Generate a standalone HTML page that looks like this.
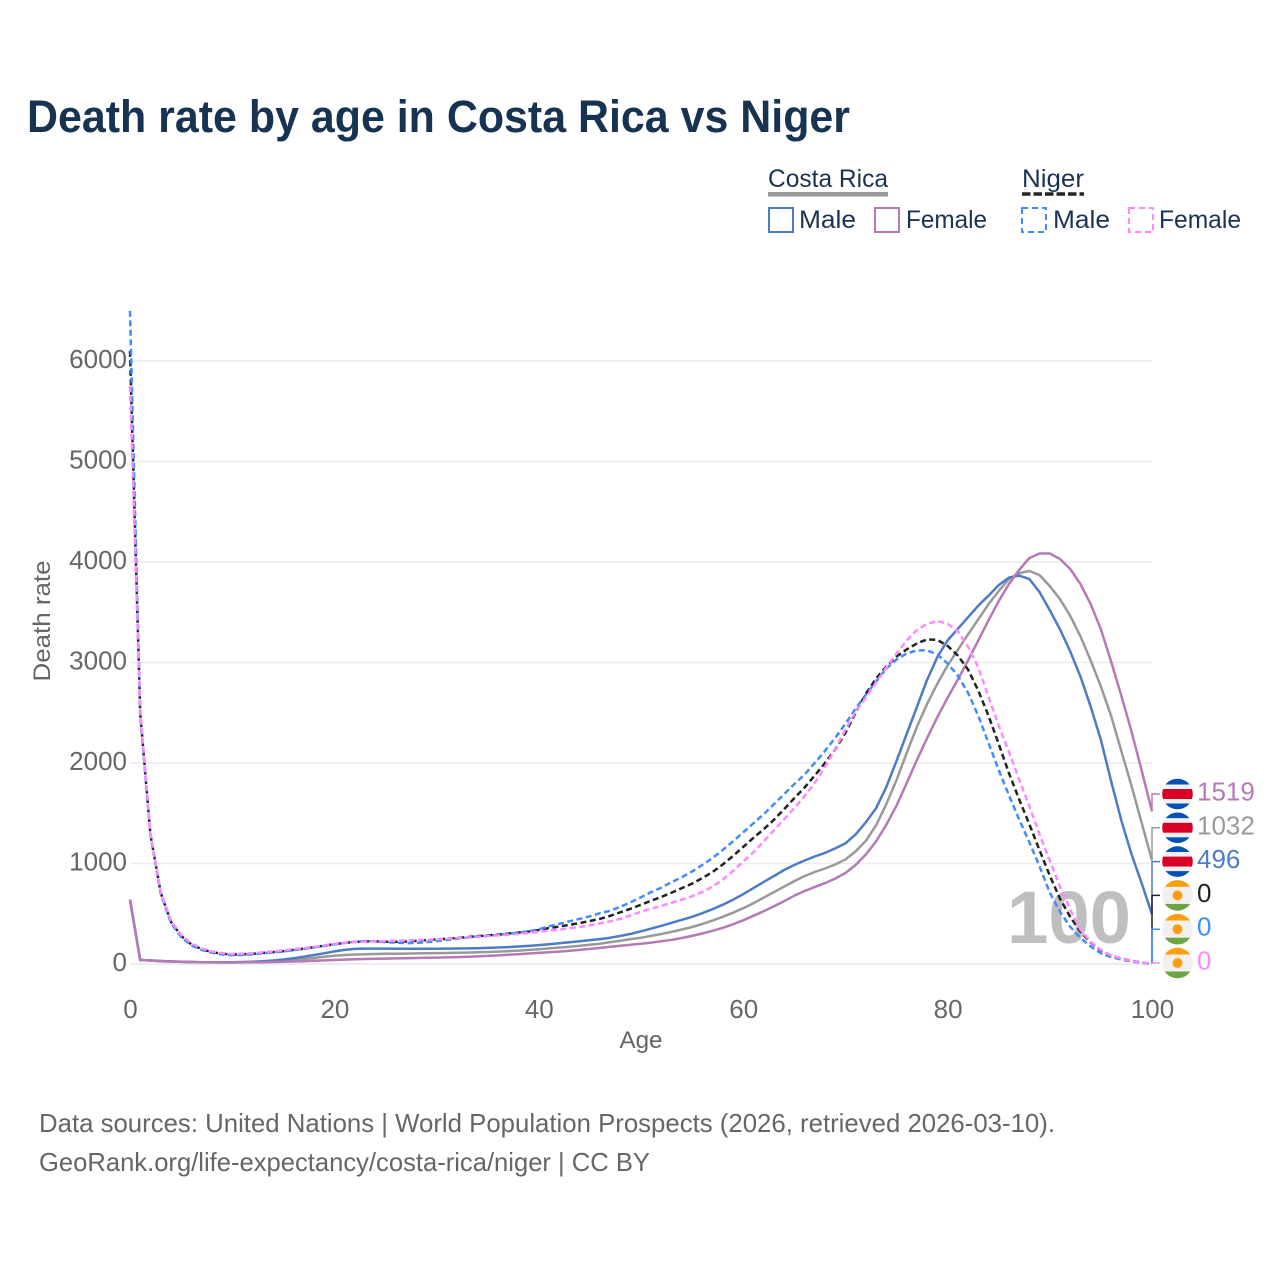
<!DOCTYPE html>
<html>
<head>
<meta charset="utf-8">
<style>
html,body{margin:0;padding:0;background:#fff;}
svg{display:block;font-family:"Liberation Sans",sans-serif;}
</style>
</head>
<body>
<svg id="chart" xmlns="http://www.w3.org/2000/svg" width="1280" height="1280" viewBox="0 0 1280 1280">
<defs>
<clipPath id="flag-clip"><circle cx="0" cy="0" r="15.3"/></clipPath>
</defs>
<rect width="1280" height="1280" fill="#fff"/>
<text x="27" y="132" font-size="45" font-weight="700" fill="#173352" textLength="823" lengthAdjust="spacingAndGlyphs">Death rate by age in Costa Rica vs Niger</text>

<g font-size="25" fill="#1a3353">
<text x="768" y="187" textLength="120" lengthAdjust="spacingAndGlyphs">Costa Rica</text>
<rect x="768" y="192" width="120" height="4.5" fill="#999"/>
<text x="1022" y="187" textLength="62" lengthAdjust="spacingAndGlyphs">Niger</text>
<line x1="1022" y1="194" x2="1084" y2="194" stroke="#222" stroke-width="3.5" stroke-dasharray="8.5 3"/>
<rect x="769" y="208" width="24" height="24" fill="none" stroke="#4d7cc7" stroke-width="2"/>
<text x="799" y="228" textLength="57" lengthAdjust="spacingAndGlyphs">Male</text>
<rect x="875" y="208" width="24" height="24" fill="none" stroke="#b57ab5" stroke-width="2"/>
<text x="906" y="228" textLength="81" lengthAdjust="spacingAndGlyphs">Female</text>
<rect x="1022" y="208" width="24" height="24" fill="none" stroke="#3f8cff" stroke-width="2" stroke-dasharray="6 4"/>
<text x="1053" y="228" textLength="57" lengthAdjust="spacingAndGlyphs">Male</text>
<rect x="1129" y="208" width="24" height="24" fill="none" stroke="#ff88ff" stroke-width="2" stroke-dasharray="6 4"/>
<text x="1159" y="228" textLength="82" lengthAdjust="spacingAndGlyphs">Female</text>
</g>

<g id="grid"></g>
<g id="ticks"></g>
<text id="year-mark" x="1069" y="943" text-anchor="middle" font-size="74" font-weight="700" fill="#bfbfbf" textLength="124" lengthAdjust="spacingAndGlyphs"></text>
<g id="series"></g>
<g id="labels"></g>

<text x="641" y="1048" text-anchor="middle" font-size="24" fill="#666" textLength="43" lengthAdjust="spacingAndGlyphs">Age</text>
<text transform="translate(50,621) rotate(-90)" text-anchor="middle" font-size="24" fill="#666" textLength="121" lengthAdjust="spacingAndGlyphs">Death rate</text>

<text x="39" y="1132" font-size="26" fill="#666" textLength="1016" lengthAdjust="spacingAndGlyphs">Data sources: United Nations | World Population Prospects (2026, retrieved 2026-03-10).</text>
<text x="39" y="1171" font-size="26" fill="#666" textLength="611" lengthAdjust="spacingAndGlyphs">GeoRank.org/life-expectancy/costa-rica/niger | CC BY</text>
</svg>
<script>
const xTicks = [0, 20, 40, 60, 80, 100];
const yTicks = [0, 1000, 2000, 3000, 4000, 5000, 6000];
const highlightedAge = 100;
const crMale = [640,40,36,30,26,23,20,18,17,17,18,20,23,28,35,45,58,73,90,106,125,140,150,153,153,153,152,152,152,152,152,153,154,155,157,160,164,168,174,180,188,197,207,217,227,238,248,262,280,300,325,352,380,410,440,470,505,545,590,640,695,755,815,875,935,985,1030,1070,1105,1150,1200,1290,1410,1550,1760,2020,2290,2557,2830,3055,3220,3335,3450,3565,3665,3770,3845,3865,3830,3700,3520,3330,3110,2860,2560,2230,1820,1430,1090,800,496];
const crTotal = [640,40,35,29,25,22,20,18,16,16,16,17,19,22,26,32,40,50,60,72,82,90,95,98,100,101,102,103,105,106,108,109,111,113,116,119,123,128,133,140,147,155,163,172,181,191,202,218,232,248,262,280,299,320,343,368,398,432,470,510,555,605,660,715,770,825,875,915,950,990,1040,1120,1225,1380,1590,1830,2100,2360,2590,2790,2970,3125,3280,3430,3580,3710,3830,3890,3910,3870,3760,3630,3465,3260,3020,2760,2470,2120,1770,1400,1032];
const crFemale = [640,40,34,28,24,21,19,17,16,15,15,16,17,18,20,22,25,28,32,36,40,44,48,50,52,54,56,58,60,62,64,66,69,72,76,81,86,92,98,104,110,116,123,131,140,150,160,171,182,192,202,213,226,241,259,280,303,330,360,395,435,480,525,575,625,680,725,765,805,850,905,985,1090,1220,1385,1575,1800,2030,2250,2457,2650,2830,3020,3220,3420,3610,3780,3920,4040,4085,4085,4030,3930,3780,3580,3330,3010,2670,2310,1920,1519];
const nigerMale = [6500,2480,1290,700,410,270,185,140,112,95,88,90,97,106,115,125,138,150,165,180,195,210,222,228,225,218,212,208,210,218,228,240,252,263,275,282,290,300,312,325,345,375,400,425,450,475,505,530,570,615,665,715,760,815,865,920,985,1055,1135,1220,1310,1400,1490,1590,1690,1790,1885,2000,2120,2250,2390,2540,2680,2810,2940,3030,3090,3120,3120,3080,2990,2870,2700,2470,2200,1930,1680,1440,1210,970,710,520,370,260,175,105,70,45,25,12,0];
const nigerTotal = [6100,2500,1290,710,420,280,195,148,118,102,95,96,102,110,118,128,140,152,167,182,197,210,220,225,225,222,222,224,230,238,245,252,260,268,278,285,293,302,312,322,338,358,372,390,408,428,450,480,515,550,590,630,668,710,755,800,855,915,990,1075,1165,1255,1340,1435,1540,1650,1755,1875,2000,2135,2300,2500,2690,2840,2960,3060,3130,3190,3230,3225,3165,3070,2930,2720,2470,2190,1900,1640,1390,1130,880,650,470,320,215,135,85,55,32,15,0];
const nigerFemale = [5750,2530,1300,720,430,290,205,155,125,108,100,102,108,116,125,135,147,158,170,185,200,212,220,222,225,228,232,235,238,240,245,252,258,263,270,278,285,292,300,308,320,332,342,355,368,385,405,425,450,485,520,550,578,610,640,675,715,770,840,925,1020,1110,1220,1330,1440,1550,1670,1800,1960,2140,2330,2510,2650,2800,2950,3090,3220,3323,3385,3413,3385,3310,3160,2950,2660,2370,2110,1840,1570,1290,1030,770,540,340,220,140,85,55,30,15,0];

const NS = 'http://www.w3.org/2000/svg';
const xScale = function (age) { return 130 + age * 10.22; };
const yScale = function (v) { return 964 - v * 0.1005; };
function make(tag, parentId) {
  const el = document.createElementNS(NS, tag);
  document.getElementById(parentId).appendChild(el);
  return el;
}

yTicks.forEach(function (t) {
  const g = make('line', 'grid');
  
  
  g.setAttribute('x1', 130);
  g.setAttribute('x2', 1152);
  g.setAttribute('y1', yScale(t));
  g.setAttribute('y2', yScale(t));
  g.setAttribute('stroke', '#ececec');
  g.setAttribute('stroke-width', t === 0 ? 2 : 1.5);
  const l = make('text', 'ticks');
  
  
  l.setAttribute('x', 127);
  l.setAttribute('y', yScale(t) + 7);
  l.setAttribute('text-anchor', 'end');
  l.setAttribute('font-size', '26');
  l.setAttribute('fill', '#666');
  l.textContent = String(t);
});
xTicks.forEach(function (t) {
  const l = make('text', 'ticks');
  
  
  l.setAttribute('x', xScale(t) + 0.5);
  l.setAttribute('y', 1018);
  l.setAttribute('text-anchor', 'middle');
  l.setAttribute('font-size', '26');
  l.setAttribute('fill', '#666');
  l.textContent = String(t);
});
document.getElementById('year-mark').textContent = String(highlightedAge);

const drawOrder = [
  { key: 'costa-rica-total', values: crTotal, color: '#999999', dash: '' },
  { key: 'costa-rica-male', values: crMale, color: '#4d7cc7', dash: '' },
  { key: 'costa-rica-female', values: crFemale, color: '#b57ab5', dash: '' },
  { key: 'niger-total', values: nigerTotal, color: '#222222', dash: '6 3.5' },
  { key: 'niger-male', values: nigerMale, color: '#3f8cff', dash: '6 3.5' },
  { key: 'niger-female', values: nigerFemale, color: '#ff88ff', dash: '6 3.5' }
];
drawOrder.forEach(function (s) {
  const p = make('polyline', 'series');
  
  
  p.setAttribute('points', s.values.map(function (v, i) { return xScale(i).toFixed(1) + ',' + yScale(v).toFixed(1); }).join(' '));
  p.setAttribute('fill', 'none');
  p.setAttribute('stroke', s.color);
  p.setAttribute('stroke-width', '2.5');
  p.setAttribute('stroke-linejoin', 'round');
  if (s.dash) p.setAttribute('stroke-dasharray', s.dash);
});

const labelOrder = [
  { key: 'costa-rica-female', values: crFemale, color: '#b57ab5', flag: 'cr' },
  { key: 'costa-rica-total', values: crTotal, color: '#999999', flag: 'cr' },
  { key: 'costa-rica-male', values: crMale, color: '#4d7cc7', flag: 'cr' },
  { key: 'niger-total', values: nigerTotal, color: '#222222', flag: 'ne' },
  { key: 'niger-male', values: nigerMale, color: '#3f8cff', flag: 'ne' },
  { key: 'niger-female', values: nigerFemale, color: '#ff88ff', flag: 'ne' }
];
const crBands = [[-16, 6.5, '#0052b4'], [-9.5, 4.5, '#f0f0f0'], [-5, 10, '#d80027'], [5, 4.5, '#f0f0f0'], [9.5, 6.5, '#0052b4']];
const neBands = [[-16, 7.5, '#ff9d11'], [-8.5, 17, '#f0f0f0'], [8.5, 7.5, '#6da544']];

labelOrder.forEach(function (s, idx) {
  const last = s.values[s.values.length - 1];
  const cy = 963 - (labelOrder.length - 1 - idx) * 33.8;
  const conn = make('path', 'labels');
  
  
  conn.setAttribute('d', 'M1152 ' + yScale(last).toFixed(1) + 'V' + cy.toFixed(1) + 'H1160');
  conn.setAttribute('fill', 'none');
  conn.setAttribute('stroke', s.color);
  conn.setAttribute('stroke-width', '1.5');

  const flag = make('g', 'labels');
  
  
  flag.setAttribute('transform', 'translate(1177.5,' + cy.toFixed(1) + ')');
  flag.setAttribute('clip-path', 'url(#flag-clip)');
  (s.flag === 'cr' ? crBands : neBands).forEach(function (b) {
    const r = document.createElementNS(NS, 'rect');
    
    
    r.setAttribute('x', -16);
    r.setAttribute('y', b[0]);
    r.setAttribute('width', 32);
    r.setAttribute('height', b[1]);
    r.setAttribute('fill', b[2]);
    flag.appendChild(r);
  });
  if (s.flag === 'ne') {
    const c = document.createElementNS(NS, 'circle');
    
    
    c.setAttribute('r', 5);
    c.setAttribute('fill', '#ff9d11');
    flag.appendChild(c);
  }

  const t = make('text', 'labels');
  
  
  t.setAttribute('x', 1197);
  t.setAttribute('y', cy + 6.5);
  t.setAttribute('font-size', '26');
  t.setAttribute('fill', s.color);
  t.textContent = String(last);
});
</script>
</body>
</html>
